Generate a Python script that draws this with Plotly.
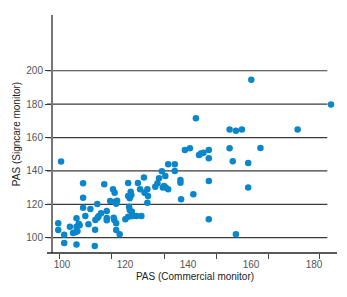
import plotly.graph_objects as go

# PAS readings: commercial monitor (x) vs Signcare monitor (y)
pas_commercial = [
    98.8, 98.8, 99.7, 100.7, 100.7, 102.5, 103.5, 104.2, 104.6, 104.6,
    104.6, 104.9, 105.3, 105.6, 106.7, 106.7, 106.7, 107.4, 108.4, 109.0,
    110.4, 110.5, 110.6, 111.2, 111.3, 111.6, 112.4, 113.4, 114.2, 114.2,
    114.2, 115.3, 116.2, 116.4, 116.6, 116.9, 116.7, 117.5, 117.2, 117.2,
    117.2, 118.3, 120.1, 121.0, 121.0, 121.3, 121.0, 121.8, 122.0, 122.0,
    121.5, 121.5, 122.2, 122.5, 123.6, 124.1, 124.8, 125.2, 126.0, 126.2,
    127.1, 127.3, 127.1, 129.6, 130.8, 130.3, 131.7, 132.0, 132.4, 132.8,
    132.9, 133.7, 133.7, 135.8, 135.8, 137.6, 137.6, 137.8, 139.0, 140.6,
    141.7, 142.5, 143.5, 144.1, 144.9, 146.6, 146.6, 146.6, 146.6, 153.2,
    153.2, 154.2, 155.2, 155.2, 157.1, 159.1, 159.1, 160.1, 163.0, 174.8,
    185.4,
]
pas_signcare = [
    108.6, 104.6, 145.6, 101.8, 96.8, 106.6, 102.8, 103.2, 111.6, 106.6,
    96.0, 103.8, 108.4, 107.4, 132.6, 124.0, 118.0, 113.0, 108.0, 117.2,
    95.0, 104.8, 110.6, 120.2, 112.0, 112.8, 114.6, 132.0, 116.0, 111.8,
    110.4, 122.0, 129.0, 112.0, 110.6, 121.6, 127.0, 122.2, 120.4, 108.6,
    104.6, 102.0, 111.0, 132.8, 125.0, 118.6, 112.6, 127.5, 113.0, 125.6,
    123.6, 116.6, 115.6, 113.0, 113.0, 132.8, 129.0, 113.0, 136.0, 127.0,
    129.0, 125.0, 121.0, 130.5, 135.6, 132.6, 139.8, 130.0, 131.0, 137.0,
    130.0, 129.0, 144.0, 144.0, 140.0, 134.6, 132.9, 123.0, 152.6, 153.6,
    126.0, 171.6, 149.6, 150.4, 150.9, 152.5, 147.6, 134.0, 111.0, 164.8,
    153.6, 145.8, 164.0, 102.0, 164.8, 144.8, 130.0, 194.6, 153.8, 164.8,
    179.8,
]

y_ticks = [100, 120, 140, 160, 180, 200]
x_label_ticks = [100, 120, 140, 160, 180]
x_mark_ticks = [99.1, 115.8, 132.4, 148.9, 165.4, 181.9]

x_range = [97.14, 187.3]
y_range = [90.84, 233.4]

FONT = "Liberation Sans, Arial, sans-serif"

fig = go.Figure()
fig.add_trace(go.Scatter(
    x=pas_commercial, y=pas_signcare, mode="markers",
    marker=dict(color="#0a86cb", size=6.5, line=dict(width=0)),
    cliponaxis=False, showlegend=False, hoverinfo="x+y",
))
# invisible trace to anchor the tick-mark axis
fig.add_trace(go.Scatter(x=[x_range[0]], y=[y_range[0]], xaxis="x2",
                         mode="markers", marker=dict(opacity=0),
                         showlegend=False, hoverinfo="skip"))

shapes = []
for v in y_ticks:
    shapes.append(dict(type="line", xref="paper", yref="y",
                       x0=-6 / 284, x1=0.966, y0=v, y1=v,
                       line=dict(color="#3a3a3a", width=1.2), layer="below"))
# x axis baseline (extends a little left of the y axis)
shapes.append(dict(type="line", xref="paper", yref="paper",
                   x0=-6 / 284, x1=1, y0=0, y1=0,
                   line=dict(color="#222222", width=1.5)))

# page body has an 8px default margin, so the figure is sized/margined to fit
fig.update_layout(
    width=339, height=289,
    margin=dict(l=45, r=10, t=7, b=44),
    paper_bgcolor="white", plot_bgcolor="white",
    font=dict(family=FONT, size=10, color="#444444"),
    shapes=shapes,
    xaxis=dict(range=x_range, showgrid=False, zeroline=False, showline=False,
               tickmode="array", tickvals=x_label_ticks,
               ticktext=[str(v) for v in x_label_ticks],
               ticks="", ticklabelstandoff=4,
               tickfont=dict(size=10, color="#555555"),
               title=dict(text="PAS (Commercial monitor)", standoff=3,
                          font=dict(size=10, color="#222222"))),
    xaxis2=dict(range=x_range, overlaying="x", anchor="y", side="bottom",
                showgrid=False, zeroline=False, showline=False,
                showticklabels=False, tickmode="array", tickvals=x_mark_ticks,
                ticks="outside", ticklen=5, tickwidth=1, tickcolor="#444444"),
    yaxis=dict(range=y_range, showgrid=False, zeroline=False,
               showline=True, linecolor="#777777", linewidth=2,
               tickmode="array", tickvals=y_ticks,
               ticks="outside", ticklen=6, tickwidth=1.2, tickcolor="#3a3a3a",
               tickfont=dict(size=10, color="#555555"),
               title=dict(text="PAS (Signcare monitor)", standoff=4,
                          font=dict(size=10, color="#222222"))),
)

fig.write_html("out.html")
